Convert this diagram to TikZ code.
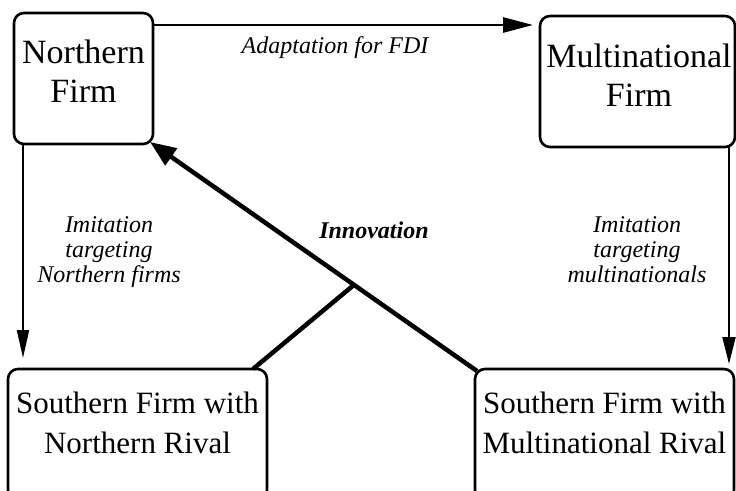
\documentclass[tikz,border=0pt]{standalone}
\usepackage{fontspec}
\setmainfont{Liberation Serif}
\usetikzlibrary{arrows.meta,calc}
\begin{document}
\begin{tikzpicture}[x=1pt,y=-1pt,
  firm/.style={draw, line width=2.6pt, rounded corners=10pt, inner sep=0pt, outer sep=0pt},
  bigtext/.style={align=center, inner sep=0pt, anchor=north, font=\fontsize{34}{39}\selectfont},
  midtext/.style={align=center, inner sep=0pt, anchor=north, font=\fontsize{31}{39.5}\selectfont},
  lbl/.style={align=center, inner sep=0pt, font=\fontsize{24}{25}\selectfont\itshape},
  thinarr/.style={line width=2pt},
  thickarr/.style={line width=4.5pt}
]
\useasboundingbox (0,0) rectangle (736,490);
\clip (0,0) rectangle (736,490);

% boxes
\node[firm, minimum width=139pt, minimum height=131pt] (nf) at (83.5,78.5) {};
\node[firm, minimum width=195pt, minimum height=131pt] (mf) at (637.5,81.5) {};
\node[firm, minimum width=259pt, minimum height=131pt] (sw) at (137.5,434.5) {};
\node[firm, minimum width=259pt, minimum height=131pt] (se) at (604.5,434.5) {};

% box texts
\node[bigtext] (nft) at (83.5,39.8) {Northern\\Firm};
\node[bigtext] (mft) at (639,43.8) {Multinational\\Firm};
\node[midtext] (swt) at (137.5,392) {Southern Firm with\\Northern Rival};
\node[midtext] (set) at (604.5,392) {Southern Firm with\\Multinational Rival};

% labels
\node[lbl, anchor=base] (ad) at (335,53) {Adaptation for FDI};
\node[lbl, anchor=north] (iml) at (109,216.6) {Imitation\\targeting\\Northern firms};
\node[lbl, anchor=north] (imr) at (637,216.6) {Imitation\\targeting\\multinationals};
\node[lbl, anchor=base, font=\fontsize{24}{25}\selectfont\bfseries\itshape] (inn) at (374,238) {Innovation};

% connectors
\draw[line width=2.8pt, -{Triangle[length=30pt,width=15pt]}, shorten >=7pt]
  ([yshift=-12pt]nf.north east) -- ([yshift=-12pt]nf.north east -| mf.west);
\draw[thinarr, -{Triangle[length=28pt,width=12pt]}, shorten >=11pt]
  ([xshift=9pt]nf.south west) -- ([xshift=9pt]nf.south west |- sw.north);
\draw[thinarr, -{Triangle[length=27pt,width=13pt]}, shorten >=5pt]
  ([xshift=-6pt]mf.south east) -- ([xshift=-6pt]mf.south east |- se.north);

\coordinate (j) at ($(se.north west)!0.375!(nf.south east)$);
\draw[thickarr, -{Triangle[length=26pt,width=20pt]}]
  ([shift={(2pt,-2pt)}]se.north west) -- ([shift={(-3pt,2pt)}]nf.south east);
\draw[thickarr] ([xshift=-14pt]sw.north east) -- (j);
\end{tikzpicture}
\end{document}
